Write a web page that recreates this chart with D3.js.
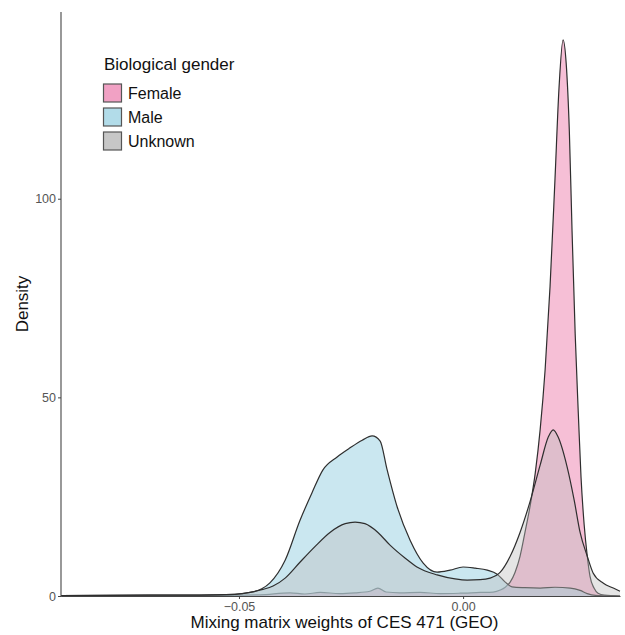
<!DOCTYPE html>
<html>
<head>
<meta charset="utf-8">
<script src="https://cdn.jsdelivr.net/npm/d3@7"></script>
<style>
  html, body { margin: 0; padding: 0; background: #fff; }
  svg { display: block; font-family: "Liberation Sans", Arial, sans-serif; }
</style>
</head>
<body>
<svg id="chart" width="625" height="635"></svg>
<script>
// Density estimates of CES 471 mixing weights, per biological gender
const femaleX = [-0.0897, -0.0587, -0.0453, -0.0386, -0.0353, -0.0319, -0.0275, -0.0241, -0.0208, -0.0190, -0.0172, -0.0141, -0.0096, -0.0051, -0.0007, 0.0038, 0.0067, 0.0083, 0.0094, 0.0105, 0.0116, 0.0127, 0.0138, 0.0150, 0.0161, 0.0172, 0.0183, 0.0194, 0.0205, 0.0214, 0.0223, 0.0230, 0.0237, 0.0243, 0.0250, 0.0257, 0.0263, 0.0270, 0.0277, 0.0283, 0.0292, 0.0301, 0.0315, 0.0350];
const femaleY = [0.05, 0.1, 0.3, 0.8, 0.5, 0.9, 0.6, 0.8, 1.2, 2.0, 1.0, 0.8, 0.9, 0.6, 0.7, 0.9, 1.0, 1.5, 2.2, 3.5, 6, 10, 16, 23, 31, 42, 57, 78, 105, 128, 140, 134, 117, 92, 66, 46, 30, 18, 10, 5, 2, 0.7, 0.2, 0];

const maleX = [-0.0897, -0.0699, -0.0587, -0.0509, -0.0475, -0.0449, -0.0431, -0.0397, -0.0364, -0.0337, -0.0313, -0.0281, -0.0252, -0.0225, -0.0203, -0.0185, -0.0170, -0.0147, -0.0118, -0.0089, -0.0058, -0.0029, 0.0000, 0.0027, 0.0054, 0.0076, 0.0094, 0.0109, 0.0138, 0.0172, 0.0205, 0.0239, 0.0261, 0.0277, 0.0295, 0.0328, 0.0350];
const maleY = [0.1, 0.2, 0.2, 0.4, 0.9, 1.8, 3.3, 9, 19, 26, 31.7, 35, 37.3, 39.2, 40.3, 39, 32, 22.4, 14, 8.3, 6, 6.5, 7.3, 7, 6.5, 5.5, 3.5, 2.3, 2.1, 2.0, 2.2, 2.0, 1.4, 0.6, 0.15, 0.02, 0];

const unknownX = [-0.0897, -0.0699, -0.0587, -0.0509, -0.0475, -0.0449, -0.0424, -0.0397, -0.0364, -0.0330, -0.0297, -0.0263, -0.0241, -0.0219, -0.0190, -0.0163, -0.0129, -0.0103, -0.0058, -0.0018, 0.0009, 0.0038, 0.0060, 0.0083, 0.0105, 0.0127, 0.0150, 0.0172, 0.0190, 0.0201, 0.0212, 0.0232, 0.0248, 0.0261, 0.0277, 0.0290, 0.0313, 0.0335, 0.0350];
const unknownY = [0.1, 0.2, 0.2, 0.4, 0.9, 1.6, 2.5, 4.5, 8.5, 12.5, 16, 18.2, 18.6, 18.2, 16, 12.8, 9.5, 7.3, 5.3, 4.3, 4.0, 4.1, 4.5, 6, 10, 16, 24, 33, 40, 41.8, 40, 32.5, 24, 16, 10, 5.8, 3.2, 2, 1.2];

const groups = ["Female", "Male", "Unknown"];
const fills = ["#ee8ab5", "#9fd3e3", "#bdbdbd"];
const xTicks = [-0.05, 0.00];
const yTicks = [0, 50, 100];

const series = [
  { name: groups[0], xs: femaleX, ys: femaleY },
  { name: groups[1], xs: maleX, ys: maleY },
  { name: groups[2], xs: unknownX, ys: unknownY }
].map(s => ({ name: s.name, pts: s.xs.map((x, i) => [x, s.ys[i]]) }));

const svg = d3.select("#chart");
const W = 625, H = 635;
const m = { left: 61, right: 5, top: 12, bottom: 39 };

const x = d3.scaleLinear().domain([-0.0897, 0.0350]).range([m.left, W - m.right]);
const y = d3.scaleLinear().domain([0, 147]).range([H - m.bottom, m.top]);
const color = d3.scaleOrdinal().domain(groups).range(fills);
const areaAlpha = { Female: 0.55, Male: 0.55, Unknown: 0.4 };
const keyAlpha = { Female: 0.8, Male: 0.8, Unknown: 0.85 };

const area = d3.area()
  .x(d => x(d[0])).y0(y(0)).y1(d => y(d[1]))
  .curve(d3.curveMonotoneX);
const line = d3.line()
  .x(d => x(d[0])).y(d => y(d[1]))
  .curve(d3.curveMonotoneX);

const layers = svg.append("g");
series.forEach(s => {
  layers.append("path")
    .attr("d", area(s.pts))
    .attr("fill", color(s.name))
    .attr("fill-opacity", areaAlpha[s.name]);
  layers.append("path")
    .attr("d", line(s.pts))
    .attr("fill", "none")
    .attr("stroke", "#2e2e2e")
    .attr("stroke-width", 1.2);
});

// Axes
const xAxis = svg.append("g")
  .attr("transform", `translate(0,${y(0)})`)
  .call(d3.axisBottom(x).tickValues(xTicks).tickFormat(d3.format(".2f")).tickSize(3).tickSizeOuter(0).tickPadding(3));
const yAxis = svg.append("g")
  .attr("transform", `translate(${m.left},0)`)
  .call(d3.axisLeft(y).tickValues(yTicks).tickFormat(d3.format("d")).tickSize(3).tickSizeOuter(0).tickPadding(2));

[xAxis, yAxis].forEach(g => {
  g.select(".domain").attr("stroke", "#444").attr("stroke-width", 1.1);
  g.selectAll(".tick line").attr("stroke", "#444").attr("stroke-width", 1);
  g.selectAll(".tick text").attr("fill", "#555").attr("font-size", 12.5)
    .attr("font-family", "Liberation Sans, Arial, sans-serif");
});
yAxis.select(".domain").attr("d", `M0,${y(0)}V${m.top}`);

svg.append("text")
  .attr("x", (m.left + W - m.right) / 2 + 4).attr("y", 628)
  .attr("text-anchor", "middle").attr("font-size", 17).attr("fill", "#111")
  .text("Mixing matrix weights of CES 471 (GEO)");
svg.append("text")
  .attr("transform", `translate(28,${(m.top + y(0)) / 2}) rotate(-90)`)
  .attr("text-anchor", "middle").attr("font-size", 17).attr("fill", "#111")
  .text("Density");

// Legend
const legend = svg.append("g").attr("transform", "translate(103,0)");
legend.append("text").attr("x", 1).attr("y", 70)
  .attr("font-size", 17).attr("fill", "#111").text("Biological gender");
groups.forEach((g, i) => {
  const ky = 84 + i * 24;
  legend.append("rect")
    .attr("x", 0.5).attr("y", ky).attr("width", 18).attr("height", 18)
    .attr("fill", color(g)).attr("fill-opacity", keyAlpha[g])
    .attr("stroke", "#555").attr("stroke-width", 1.2);
  legend.append("text").attr("x", 25).attr("y", ky + 15)
    .attr("font-size", 16).attr("fill", "#111").text(g);
});
</script>
</body>
</html>
